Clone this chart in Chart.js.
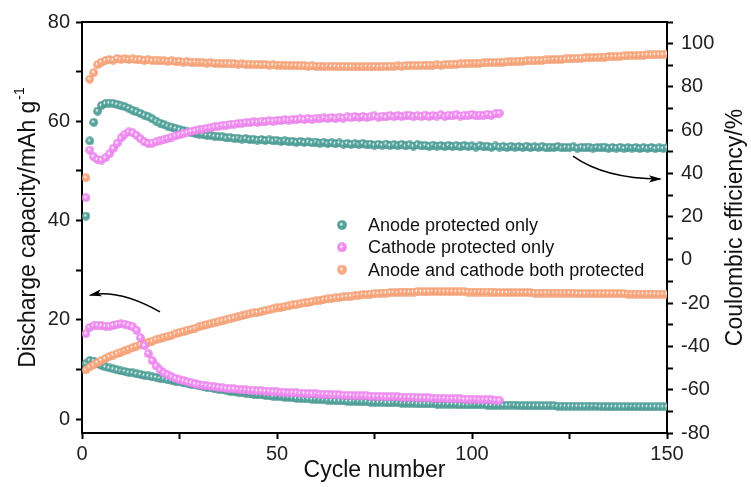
<!DOCTYPE html>
<html>
<head>
<meta charset="utf-8">
<script src="https://cdn.jsdelivr.net/npm/chart.js@4.4.1/dist/chart.umd.min.js"></script>
<style>
  html, body { margin: 0; padding: 0; background: #ffffff; }
  #wrap { width: 751px; height: 487px; }
</style>
</head>
<body>
<div id="wrap"><canvas id="chart" width="751" height="487"></canvas></div>
<script>
// Series names shown in the legend
const seriesNames = ['Anode protected only', 'Cathode protected only', 'Anode and cathode both protected'];

// Axis titles
const xTitle = 'Cycle number';
const leftTitle = 'Discharge capacity/mAh g';
const leftTitleSup = '-1';
const rightTitle = 'Coulombic efficiency/%';

// Tick steps and labelled tick spacing
const xTickStep = 25, xLabelStep = 50;
const capTickStep = 10, capLabelStep = 20;
const ceTickStep = 10, ceLabelStep = 20;

// Discharge capacity (mAh/g), one value per cycle starting at cycle 1
const anodeCapacity = [
  11.2, 11.8, 11.7, 11.2, 10.8, 10.5, 10.3, 10.1, 9.9, 9.7,
  9.6, 9.4, 9.3, 9.1, 9.0, 8.8, 8.7, 8.5, 8.4, 8.2,
  8.1, 7.9, 7.8, 7.6, 7.5, 7.3, 7.2, 7.0, 6.9, 6.7,
  6.6, 6.4, 6.3, 6.1, 6.0, 5.9, 5.8, 5.6, 5.5, 5.4,
  5.3, 5.2, 5.1, 5.0, 4.9, 4.9, 4.8, 4.7, 4.6, 4.6,
  4.5, 4.4, 4.4, 4.3, 4.2, 4.2, 4.1, 4.1, 4.0, 4.0,
  3.9, 3.9, 3.8, 3.8, 3.7, 3.7, 3.7, 3.6, 3.6, 3.6,
  3.5, 3.5, 3.5, 3.4, 3.4, 3.4, 3.4, 3.3, 3.3, 3.3,
  3.3, 3.2, 3.2, 3.2, 3.2, 3.1, 3.1, 3.1, 3.1, 3.1,
  3.0, 3.0, 3.0, 3.0, 3.0, 3.0, 2.9, 2.9, 2.9, 2.9,
  2.9, 2.9, 2.9, 2.8, 2.8, 2.8, 2.8, 2.8, 2.8, 2.8,
  2.8, 2.7, 2.7, 2.7, 2.7, 2.7, 2.7, 2.7, 2.7, 2.7,
  2.7, 2.6, 2.6, 2.6, 2.6, 2.6, 2.6, 2.6, 2.6, 2.6,
  2.6, 2.6, 2.5, 2.5, 2.5, 2.5, 2.5, 2.5, 2.5, 2.5,
  2.5, 2.5, 2.5, 2.5, 2.5, 2.5, 2.5, 2.5, 2.5, 2.5
];
const cathodeCapacity = [
  17.2, 18.5, 18.8, 18.9, 18.8, 18.7, 18.7, 18.9, 19.1, 19.2,
  19.1, 18.9, 18.6, 17.9, 16.4, 14.8, 13.2, 11.8, 10.7, 9.9,
  9.3, 8.9, 8.5, 8.2, 7.9, 7.7, 7.5, 7.3, 7.1, 6.9,
  6.8, 6.7, 6.6, 6.5, 6.4, 6.3, 6.2, 6.1, 6.1, 6.0,
  5.9, 5.9, 5.8, 5.8, 5.7, 5.7, 5.6, 5.6, 5.5, 5.5,
  5.4, 5.4, 5.3, 5.3, 5.3, 5.2, 5.2, 5.1, 5.1, 5.1,
  5.0, 5.0, 5.0, 4.9, 4.9, 4.9, 4.8, 4.8, 4.8, 4.7,
  4.7, 4.7, 4.7, 4.6, 4.6, 4.6, 4.6, 4.5, 4.5, 4.5,
  4.5, 4.4, 4.4, 4.4, 4.4, 4.3, 4.3, 4.3, 4.3, 4.2,
  4.2, 4.2, 4.2, 4.1, 4.1, 4.1, 4.1, 4.0, 4.0, 4.0,
  4.0, 3.9, 3.9, 3.9, 3.9, 3.8, 3.8
];
const bothCapacity = [
  9.9, 10.5, 10.9, 11.4, 11.8, 12.2, 12.6, 12.9, 13.2, 13.5,
  13.8, 14.1, 14.4, 14.7, 15.0, 15.2, 15.5, 15.7, 16.0, 16.2,
  16.5, 16.7, 16.9, 17.2, 17.4, 17.6, 17.9, 18.1, 18.3, 18.6,
  18.8, 19.0, 19.2, 19.4, 19.6, 19.8, 20.0, 20.2, 20.4, 20.6,
  20.8, 21.0, 21.2, 21.4, 21.5, 21.7, 21.9, 22.0, 22.2, 22.4,
  22.5, 22.7, 22.8, 23.0, 23.1, 23.3, 23.4, 23.5, 23.7, 23.8,
  23.9, 24.1, 24.2, 24.3, 24.4, 24.5, 24.6, 24.7, 24.8, 24.9,
  25.0, 25.1, 25.1, 25.2, 25.3, 25.3, 25.4, 25.4, 25.5, 25.5,
  25.5, 25.6, 25.6, 25.6, 25.6, 25.7, 25.7, 25.7, 25.7, 25.7,
  25.7, 25.7, 25.7, 25.7, 25.7, 25.7, 25.7, 25.7, 25.6, 25.6,
  25.6, 25.6, 25.6, 25.6, 25.6, 25.5, 25.5, 25.5, 25.5, 25.5,
  25.5, 25.5, 25.5, 25.5, 25.5, 25.4, 25.4, 25.4, 25.4, 25.4,
  25.4, 25.4, 25.4, 25.4, 25.4, 25.4, 25.3, 25.3, 25.3, 25.3,
  25.3, 25.3, 25.3, 25.3, 25.3, 25.3, 25.3, 25.3, 25.3, 25.2,
  25.2, 25.2, 25.2, 25.2, 25.2, 25.2, 25.2, 25.2, 25.2, 25.2
];

// Coulombic efficiency (%), one value per cycle starting at cycle 1
const anodeCE = [
  20.3, 55.0, 63.6, 68.8, 71.4, 72.3, 72.5, 72.4, 71.9, 71.3,
  70.8, 70.1, 69.2, 68.4, 67.7, 66.9, 66.2, 65.2, 64.2, 63.3,
  62.6, 61.9, 61.4, 60.8, 60.2, 59.8, 59.3, 58.9, 58.5, 58.2,
  58.0, 57.6, 57.6, 57.2, 57.0, 56.9, 56.4, 56.6, 56.2, 56.3,
  55.9, 56.1, 55.6, 55.8, 55.4, 55.7, 55.2, 55.5, 55.0, 55.3,
  54.8, 55.1, 54.6, 54.9, 54.4, 54.8, 54.3, 54.6, 54.1, 54.5,
  54.0, 54.4, 53.8, 54.2, 53.7, 54.1, 53.5, 53.9, 53.4, 53.8,
  53.3, 53.9, 53.2, 53.6, 53.1, 53.5, 53.0, 53.6, 52.9, 53.3,
  52.8, 53.4, 52.7, 53.2, 52.6, 53.3, 52.7, 53.0, 52.5, 53.1,
  52.6, 52.9, 52.4, 53.0, 52.5, 52.8, 52.3, 52.9, 52.4, 52.7,
  52.2, 52.8, 52.3, 52.6, 52.1, 52.7, 52.2, 52.5, 52.0, 52.6,
  52.1, 52.4, 52.0, 52.6, 51.9, 52.3, 52.0, 52.5, 51.8, 52.2,
  51.9, 52.4, 51.8, 52.1, 51.9, 52.3, 51.7, 52.1, 51.8, 52.2,
  51.7, 52.0, 51.8, 52.2, 51.6, 52.0, 51.7, 52.1, 51.6, 51.9,
  51.7, 52.0, 51.5, 51.9, 51.6, 52.0, 51.5, 51.8, 51.6, 51.9
];
const cathodeCE = [
  28.8, 50.8, 47.7, 46.4, 46.2, 47.2, 49.0, 51.6, 54.0, 56.4,
  58.2, 59.2, 58.8, 57.6, 56.0, 54.6, 53.8, 54.0, 54.6, 55.1,
  55.6, 56.2, 56.8, 57.4, 57.9, 58.4, 59.0, 59.4, 59.8, 60.2,
  60.5, 60.8, 61.1, 61.5, 61.8, 62.2, 62.3, 62.7, 62.8, 63.1,
  63.2, 63.5, 63.4, 63.8, 63.7, 64.1, 63.9, 64.3, 64.2, 64.5,
  64.4, 64.8, 64.6, 65.0, 64.8, 65.2, 64.9, 65.4, 65.1, 65.5,
  65.2, 65.7, 65.4, 65.8, 65.5, 66.0, 65.6, 66.1, 65.7, 66.3,
  65.8, 66.4, 65.9, 66.2, 66.6, 66.0, 66.5, 66.1, 66.7, 66.2,
  66.8, 66.3, 66.6, 66.9, 66.2, 66.7, 66.4, 67.0, 66.3, 66.8,
  66.5, 67.1, 66.4, 66.9, 66.6, 67.2, 66.5, 66.9, 66.7, 67.3,
  66.6, 67.0, 66.8, 67.4, 66.9, 67.6, 67.9
];
const bothCE = [
  38.0, 83.6, 86.6, 90.3, 91.5, 92.2, 92.6, 92.4, 93.2, 92.8,
  93.0, 92.7, 92.9, 92.5, 92.6, 92.3, 92.5, 92.2, 92.4, 92.0,
  92.1, 91.8, 92.0, 91.6, 91.8, 91.5, 91.6, 91.3, 91.5, 91.2,
  91.3, 91.0, 91.2, 90.9, 91.0, 90.7, 90.9, 90.6, 90.8, 90.5,
  90.6, 90.4, 90.5, 90.3, 90.4, 90.2, 90.3, 90.1, 90.2, 90.0,
  90.1, 89.9, 90.0, 89.8, 89.9, 89.7, 89.8, 89.6, 89.7, 89.5,
  89.6, 89.4, 89.6, 89.4, 89.5, 89.3, 89.5, 89.3, 89.4, 89.3,
  89.4, 89.2, 89.4, 89.3, 89.4, 89.3, 89.5, 89.4, 89.6, 89.5,
  89.7, 89.6, 89.8, 89.7, 89.9, 89.8, 90.0, 89.9, 90.1, 90.0,
  90.2, 90.1, 90.3, 90.3, 90.5, 90.4, 90.6, 90.6, 90.8, 90.8,
  91.0, 90.9, 91.1, 91.1, 91.3, 91.2, 91.4, 91.4, 91.6, 91.6,
  91.7, 91.8, 91.9, 92.0, 92.1, 92.1, 92.3, 92.3, 92.5, 92.5,
  92.7, 92.7, 92.8, 92.9, 93.0, 93.1, 93.2, 93.3, 93.4, 93.4,
  93.6, 93.6, 93.8, 93.8, 94.0, 94.0, 94.1, 94.2, 94.3, 94.4,
  94.5, 94.5, 94.6, 94.7, 94.8, 94.8, 94.9, 95.0, 95.0, 95.1
];

const FONT = '"Liberation Sans", Arial, Helvetica, sans-serif';

// Shaded bead used as the point marker: small specular spot, solid body, darker rim
function bead(size, base, dark, light) {
  const c = document.createElement('canvas');
  c.width = size; c.height = size;
  const g = c.getContext('2d');
  const r = size / 2;
  const grad = g.createRadialGradient(r - 0.9, r - 1.0, 0.1, r, r, r);
  grad.addColorStop(0, '#ffffff');
  grad.addColorStop(0.16, light);
  grad.addColorStop(0.42, base);
  grad.addColorStop(0.85, base);
  grad.addColorStop(1, dark);
  g.fillStyle = grad;
  g.beginPath();
  g.arc(r, r, r - 0.2, 0, Math.PI * 2);
  g.fill();
  return c;
}

const palette = {
  anode:   { base: '#53a29b', dark: '#337f79', light: '#bfe2de' },
  cathode: { base: '#f08cf1', dark: '#d266d8', light: '#fcdcfc' },
  both:    { base: '#f7a67d', dark: '#e5885c', light: '#fee0cd' }
};
const marks = {};
const legendMarks = {};
for (const k of Object.keys(palette)) {
  const p = palette[k];
  marks[k] = bead(9, p.base, p.dark, p.light);
  legendMarks[k] = bead(10, p.base, p.dark, p.light);
}

const toPoints = arr => arr.map((v, i) => ({ x: i + 1, y: v }));

function ds(label, arr, key, axis, order) {
  return {
    label,
    data: toPoints(arr),
    yAxisID: axis,
    showLine: false,
    pointStyle: marks[key],
    pointRadius: 4,
    pointHoverRadius: 4,
    order
  };
}

const datasets = [
  ds(seriesNames[0], anodeCapacity, 'anode', 'y', 3),
  ds(seriesNames[0], anodeCE, 'anode', 'y1', 3),
  ds(seriesNames[2], bothCapacity, 'both', 'y', 2),
  ds(seriesNames[2], bothCE, 'both', 'y1', 2),
  ds(seriesNames[1], cathodeCapacity, 'cathode', 'y', 1),
  ds(seriesNames[1], cathodeCE, 'cathode', 'y1', 1)
];

function arrow(ctx, p0, c, p1) {
  ctx.beginPath();
  ctx.moveTo(p0.x, p0.y);
  ctx.quadraticCurveTo(c.x, c.y, p1.x, p1.y);
  ctx.stroke();
  const ang = Math.atan2(p1.y - c.y, p1.x - c.x);
  const len = 11, half = 3.6;
  ctx.save();
  ctx.translate(p1.x, p1.y);
  ctx.rotate(ang);
  ctx.beginPath();
  ctx.moveTo(2, 0);
  ctx.lineTo(-len, -half);
  ctx.lineTo(-len + 3, 0);
  ctx.lineTo(-len, half);
  ctx.closePath();
  ctx.fill();
  ctx.restore();
}

const decor = {
  id: 'decor',
  afterDraw(chart) {
    const { ctx, chartArea: a, scales } = chart;
    const sx = scales.x, sl = scales.y, sr = scales.y1;
    ctx.save();

    // closing top edge of the frame
    ctx.strokeStyle = '#000';
    ctx.lineWidth = 2;
    ctx.beginPath();
    ctx.moveTo(a.left - 1, a.top);
    ctx.lineTo(a.right + 1, a.top);
    ctx.stroke();

    // axis titles
    ctx.fillStyle = '#111';
    ctx.font = '23px ' + FONT;
    ctx.textAlign = 'center';
    ctx.textBaseline = 'middle';
    ctx.fillText(xTitle, (a.left + a.right) / 2, 471);

    const midY = (a.top + a.bottom) / 2;
    // left title with superscript
    ctx.save();
    ctx.translate(29, midY);
    ctx.rotate(-Math.PI / 2);
    ctx.font = '23px ' + FONT;
    const wMain = ctx.measureText(leftTitle).width;
    ctx.font = '14px ' + FONT;
    const wSup = ctx.measureText(leftTitleSup).width;
    const start = -(wMain + wSup + 1) / 2;
    ctx.textAlign = 'left';
    ctx.font = '23px ' + FONT;
    ctx.fillText(leftTitle, start, 0);
    ctx.font = '14px ' + FONT;
    ctx.fillText(leftTitleSup, start + wMain + 1, -9);
    ctx.restore();

    // right title, reading bottom to top
    ctx.save();
    ctx.translate(736, midY);
    ctx.rotate(-Math.PI / 2);
    ctx.font = '23px ' + FONT;
    ctx.textAlign = 'center';
    ctx.fillText(rightTitle, 0, 0);
    ctx.restore();

    // legend
    const lx = a.left + 260, ly0 = a.top + 203, step = 22.3;
    const keys = ['anode', 'cathode', 'both'];
    ctx.font = '18px ' + FONT;
    ctx.textAlign = 'left';
    ctx.fillStyle = '#111';
    keys.forEach((k, i) => {
      const y = ly0 + i * step;
      const m = legendMarks[k];
      ctx.drawImage(m, lx - m.width / 2, y - m.height / 2);
      ctx.fillText(seriesNames[i], lx + 26, y + 1);
    });

    // curved arrows pointing to the axis each group belongs to
    ctx.strokeStyle = '#000';
    ctx.fillStyle = '#000';
    ctx.lineWidth = 1.4;
    arrow(ctx,
      { x: sx.getPixelForValue(20), y: sl.getPixelForValue(21.6) },
      { x: sx.getPixelForValue(9.6), y: sl.getPixelForValue(26.2) },
      { x: sx.getPixelForValue(2.2), y: sl.getPixelForValue(25) });
    arrow(ctx,
      { x: sx.getPixelForValue(125.9), y: sr.getPixelForValue(48) },
      { x: sx.getPixelForValue(134), y: sr.getPixelForValue(37.6) },
      { x: sx.getPixelForValue(148.2), y: sr.getPixelForValue(37.4) });

    ctx.restore();
  }
};

const tickFont = { family: FONT, size: 20 };
const axisCommon = {
  grid: { display: true, drawOnChartArea: false, drawTicks: true, tickLength: 6, tickWidth: 2, tickColor: '#000' },
  border: { display: true, color: '#000', width: 2 }
};

new Chart(document.getElementById('chart'), {
  type: 'scatter',
  data: { datasets },
  options: {
    responsive: false,
    animation: false,
    events: [],
    layout: { padding: { top: 22, left: 0, right: 0, bottom: 0 } },
    plugins: { legend: { display: false }, tooltip: { enabled: false } },
    scales: {
      x: {
        type: 'linear',
        position: 'bottom',
        min: 0, max: 150,
        ...axisCommon,
        ticks: {
          stepSize: xTickStep, autoSkip: false, maxRotation: 0, padding: 3,
          color: '#222', font: tickFont,
          callback: v => (v % xLabelStep === 0 ? String(v) : '')
        },
        afterFit: s => { s.height = 54; }
      },
      y: {
        type: 'linear',
        position: 'left',
        min: -2.8, max: 80,
        ...axisCommon,
        ticks: {
          stepSize: capTickStep, includeBounds: false, autoSkip: false, padding: 6,
          color: '#222', font: tickFont,
          callback: v => (v % capLabelStep === 0 ? String(v) : '')
        },
        afterFit: s => { s.width = 82; }
      },
      y1: {
        type: 'linear',
        position: 'right',
        min: -80, max: 110,
        ...axisCommon,
        ticks: {
          stepSize: ceTickStep, autoSkip: false, padding: 8,
          color: '#222', font: tickFont,
          callback: v => (v % ceLabelStep === 0 ? String(v) : '')
        },
        afterFit: s => { s.width = 84; }
      }
    }
  },
  plugins: [decor]
});
</script>
</body>
</html>
